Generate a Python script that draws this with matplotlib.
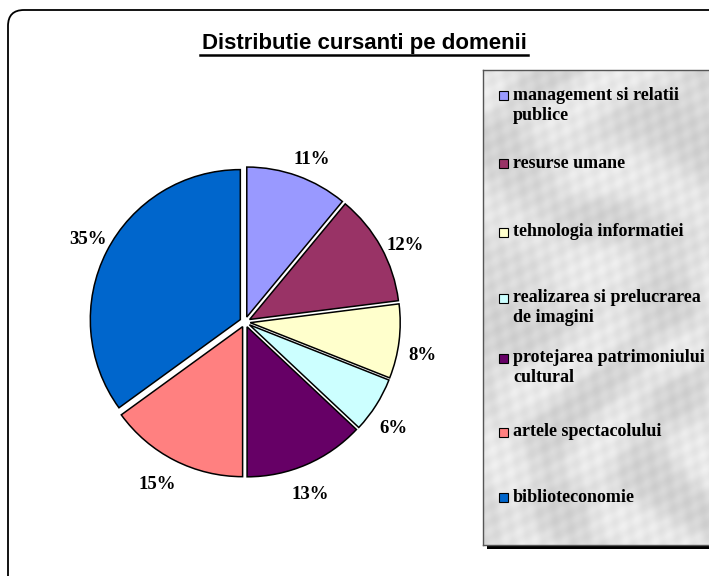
import matplotlib
matplotlib.use("Agg")
import matplotlib.pyplot as plt
from matplotlib.patches import FancyBboxPatch, Rectangle
import matplotlib.transforms as mtransforms
import numpy as np

categories = ["management si relatii\npublice", "resurse umane", "tehnologia informatiei",
              "realizarea si prelucrarea\nde imagini", "protejarea patrimoniului\ncultural",
              "artele spectacolului", "biblioteconomie"]
values = [11, 12, 8, 6, 13, 15, 35]
colors = ["#9999FF", "#993366", "#FFFFCC", "#CCFFFF", "#660066", "#FF8080", "#0066CC"]
title = "Distributie cursanti pe domenii"

W, H = 709, 576
fig = plt.figure(figsize=(W / 100, H / 100), dpi=100)
fig.patch.set_facecolor("white")

def px(x, y):
    return x / W, 1 - y / H

# outer rounded frame (display/pixel coords)
frame = FancyBboxPatch((8, -40), 740, 576 - 10 + 40, boxstyle="round,pad=0,rounding_size=16",
                       transform=None, facecolor="none", edgecolor="black", lw=1.3, zorder=-1)
fig.patches.append(frame)

# pie axes
cx, cy, R = 245, 322, 150
lim = 1.3
size = 2 * lim * R
ax = fig.add_axes([(cx - size / 2) / W, (H - cy - size / 2) / H, size / W, size / H])
explode = 0.035
wedges, _ = ax.pie(values, colors=colors, startangle=90, counterclock=False,
                   explode=[explode] * len(values),
                   wedgeprops=dict(edgecolor="black", linewidth=1.1))
shift = mtransforms.ScaledTranslation(0, -5 / 100, fig.dpi_scale_trans)
for w, v in zip(wedges, values):
    mid = np.deg2rad((w.theta1 + w.theta2) / 2 - 2.0)
    r = 1.2
    ax.text(r * np.cos(mid), r * np.sin(mid), f"{v}%", ha="center", va="center",
            family="Liberation Serif", fontweight="bold", fontsize=13.5,
            transform=ax.transData + shift)
ax.set_xlim(-lim, lim)
ax.set_ylim(-lim, lim)
ax.set_aspect("equal")
ax.axis("off")

# title
tx, ty = px(364, 43)
fig.text(tx, ty, title, ha="center", va="center", fontsize=16, fontweight="bold",
         family="Liberation Sans")
ul_y = 1 - 55 / H
fig.add_artist(plt.Line2D([200 / W, 528 / W], [ul_y, ul_y], color="black", lw=1.8))

# legend box with shadow and marble-like fill
lx0, ly0, lx1, ly1 = 483, 70, 720, 545
shadow = Rectangle((lx0 + 4, H - ly1 - 4), lx1 - lx0, ly1 - ly0, transform=None,
                   facecolor="black", edgecolor="none", zorder=1)
fig.patches.append(shadow)
lax = fig.add_axes([lx0 / W, (H - ly1) / H, (lx1 - lx0) / W, (ly1 - ly0) / H], zorder=2)
yy, xx = np.mgrid[0:ly1 - ly0, 0:lx1 - lx0].astype(float)
veins = (np.sin(xx * 0.045 + 2.5 * np.sin(yy * 0.021) + 1.7 * np.sin((xx + yy) * 0.013))
         + 0.6 * np.sin(yy * 0.07 - 1.5 * np.sin(xx * 0.03)))
tex = 0.87 + 0.05 * np.tanh(veins) + 0.025 * np.sin(xx * 0.31 + yy * 0.17) * np.sin(yy * 0.23 - xx * 0.11)
lax.imshow(tex, cmap="gray", vmin=0, vmax=1, aspect="auto", interpolation="bilinear")
lax.set_xticks([])
lax.set_yticks([])
for s in lax.spines.values():
    s.set_color("#555555")
    s.set_linewidth(1.0)

first_line_y = [95, 163, 232, 298, 358, 432, 497]
line_h = 20
for lab, col, yf in zip(categories, colors, first_line_y):
    m = 9
    fig.patches.append(Rectangle((499, H - yf - m / 2), m, m, transform=None,
                                 facecolor=col, edgecolor="black", lw=0.8, zorder=3))
    for k, ln in enumerate(lab.split("\n")):
        fx, fy = px(513, yf + k * line_h)
        fig.text(fx, fy, ln, ha="left", va="center", fontsize=13, fontweight="bold",
                 family="Liberation Serif", zorder=4)

fig.savefig("out.png", dpi=100)
